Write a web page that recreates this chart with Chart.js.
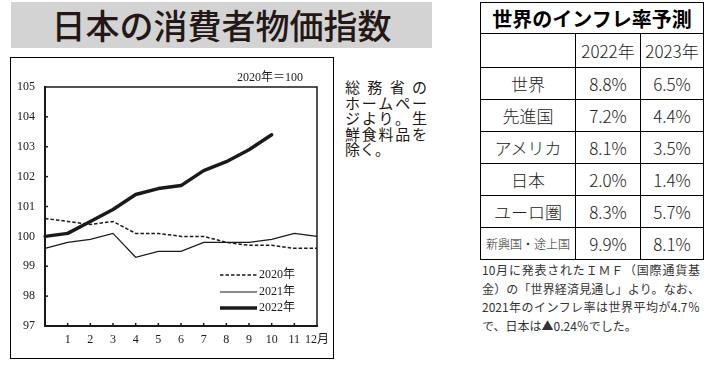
<!DOCTYPE html>
<html lang="ja">
<head>
<meta charset="utf-8">
<script src="https://cdn.jsdelivr.net/npm/chart.js@4.4.0/dist/chart.umd.min.js"></script>
<style>
  html, body { margin: 0; padding: 0; background: #fff; }
  body { width: 711px; height: 365px; position: relative; overflow: hidden;
         font-family: "Noto Sans CJK JP", sans-serif; color: #231815; }
  #title { position: absolute; left: 11px; top: 2px; width: 421px; height: 46px;
           background: #d3d3d3; text-align: center; font-size: 34px; line-height: 46px;
           font-weight: 500; letter-spacing: 0px; }
  #chartBox { position: absolute; left: 10px; top: 57px; width: 322px; height: 300px;
              border: 1px solid #000; }
  #chartWrap { position: absolute; left: 0; top: 57px; width: 340px; height: 303px; }
  #memo { position: absolute; left: 345px; top: 79px; width: 82px; font-size: 15px;
          line-height: 15.5px; }
  #memo div.j { text-align: justify; text-align-last: justify; }
  #infl { position: absolute; left: 480px; top: 2px; border-collapse: collapse;
          color: #222; }
  #infl td { border: 1px solid #000; text-align: center; padding: 0; font-size: 17px;
             font-weight: 300; }
  #infl td.ttl { font-weight: 700; font-size: 20px; color: #000; height: 30px; }
  #infl td.small { font-size: 12px; }
  #note { position: absolute; left: 482px; top: 261px; width: 218px; font-size: 12px;
          line-height: 18.5px; color: #333; white-space: nowrap; }
  #note div.j { text-align: justify; text-align-last: justify; }
</style>
</head>
<body>
<div id="title">日本の消費者物価指数</div>
<div id="chartBox"></div>
<div id="chartWrap"><canvas id="cpiChart"></canvas></div>

<div id="memo">
  <div class="j">総務省の</div>
  <div class="j">ホームペー</div>
  <div class="j">ジより。生</div>
  <div class="j">鮮食料品を</div>
  <div>除く。</div>
</div>

<table id="infl"></table>

<div id="note">
  <div class="j">10月に発表されたＩＭＦ（国際通貨基</div>
  <div class="j">金）の「世界経済見通し」より。なお、</div>
  <div class="j">2021年のインフレ率は世界平均が4.7％</div>
  <div>で、日本は▲0.24％でした。</div>
</div>

<script>
// chart data (x = 0 is the previous December)
const months = ['', '1', '2', '3', '4', '5', '6', '7', '8', '9', '10', '11', '12月'];
const cpi2020 = [100.6, 100.5, 100.4, 100.5, 100.1, 100.1, 100.0, 100.0, 99.8, 99.7, 99.7, 99.6, 99.6];
const cpi2021 = [99.6, 99.8, 99.9, 100.1, 99.3, 99.5, 99.5, 99.8, 99.8, 99.8, 99.9, 100.1, 100.0];
const cpi2022 = [100.0, 100.1, 100.5, 100.9, 101.4, 101.6, 101.7, 102.2, 102.5, 102.9, 103.4, null, null];
const seriesNames = ['2020年', '2021年', '2022年'];
const yTicks = [97, 98, 99, 100, 101, 102, 103, 104, 105];

// table data
const regions = ['世界', '先進国', 'アメリカ', '日本', 'ユーロ圏', '新興国・途上国'];
const years = ['2022年', '2023年'];
const rate2022 = ['8.8%', '7.2%', '8.1%', '2.0%', '8.3%', '9.9%'];
const rate2023 = ['6.5%', '4.4%', '3.5%', '1.4%', '5.7%', '8.1%'];

// build table
const tbl = document.getElementById('infl');
let html = '<colgroup><col style="width:95px"><col style="width:65px"><col style="width:63px"></colgroup>';
html += '<tr><td class="ttl" colspan="3">世界のインフレ率予測</td></tr>';
html += '<tr style="height:34px"><td></td><td>' + years[0] + '</td><td>' + years[1] + '</td></tr>';
regions.forEach((r, i) => {
  const cls = r.length > 5 ? ' class="small"' : '';
  html += '<tr style="height:32px"><td' + cls + '>' + r + '</td><td>' + rate2022[i] + '</td><td>' + rate2023[i] + '</td></tr>';
});
tbl.innerHTML = html;

const ink = '#1a1a1a';
const serif = '"Liberation Serif", "DejaVu Serif", "Noto Sans CJK JP", serif';

// inner tick marks, frame, legend and base note
const decor = {
  id: 'decor',
  afterDraw(chart) {
    const c = chart.ctx;
    const a = chart.chartArea;
    const ys = chart.scales.y, xs = chart.scales.x;
    c.save();
    c.strokeStyle = ink;
    c.lineWidth = 1.5;
    c.beginPath();
    c.moveTo(a.left, a.top);
    c.lineTo(a.right, a.top);
    c.lineTo(a.right, a.bottom);
    c.stroke();
    c.lineWidth = 1.5;
    yTicks.slice(1, -1).forEach(v => {
      const y = ys.getPixelForValue(v);
      c.beginPath(); c.moveTo(a.left, y); c.lineTo(a.left + 3, y); c.stroke();
    });
    for (let i = 1; i < months.length - 1; i++) {
      const x = xs.getPixelForValue(i);
      c.beginPath(); c.moveTo(x, a.bottom); c.lineTo(x, a.bottom - 3); c.stroke();
    }
    // legend
    const ds = chart.data.datasets;
    const ly = [218, 235, 251];
    ds.forEach((d, i) => {
      c.beginPath();
      c.lineWidth = d.borderWidth;
      c.setLineDash(d.borderDash || []);
      c.moveTo(220, ly[i]); c.lineTo(257, ly[i]);
      c.stroke();
      c.setLineDash([]);
      c.fillStyle = ink;
      c.font = '12px ' + serif;
      c.textBaseline = 'middle';
      c.textAlign = 'left';
      c.fillText(d.label, 259, ly[i]);
    });
    c.font = '12px ' + serif;
    c.fillText('2020年＝100', 237, 21);
    c.restore();
  }
};

new Chart(document.getElementById('cpiChart'), {
  type: 'line',
  data: {
    labels: months,
    datasets: [
      { label: seriesNames[0], data: cpi2020, borderColor: ink, borderWidth: 1.5, borderDash: [3.5, 2] },
      { label: seriesNames[1], data: cpi2021, borderColor: ink, borderWidth: 1.2 },
      { label: seriesNames[2], data: cpi2022, borderColor: ink, borderWidth: 3.5, borderJoinStyle: 'round', borderCapStyle: 'round' }
    ]
  },
  options: {
    responsive: true,
    maintainAspectRatio: false,
    animation: false,
    elements: { point: { radius: 0 }, line: { tension: 0 } },
    layout: { padding: { top: 30, right: 23, left: 0, bottom: 0 } },
    plugins: { legend: { display: false }, tooltip: { enabled: false } },
    scales: {
      x: {
        grid: { display: false, drawTicks: false },
        border: { display: true, color: ink, width: 2 },
        ticks: { color: ink, padding: 7, autoSkip: false, maxRotation: 0, font: { family: serif, size: 12 } },
        afterFit(s) { s.height = 34; }
      },
      y: {
        min: 97, max: 105,
        grid: { display: false, drawTicks: false },
        border: { display: true, color: ink, width: 2 },
        ticks: { color: ink, padding: 10, stepSize: 1, font: { family: serif, size: 12 } },
        afterBuildTicks(s) { s.ticks = yTicks.map(v => ({ value: v })); },
        afterFit(s) { s.width = 45; }
      }
    }
  },
  plugins: [decor]
});
</script>
</body>
</html>
